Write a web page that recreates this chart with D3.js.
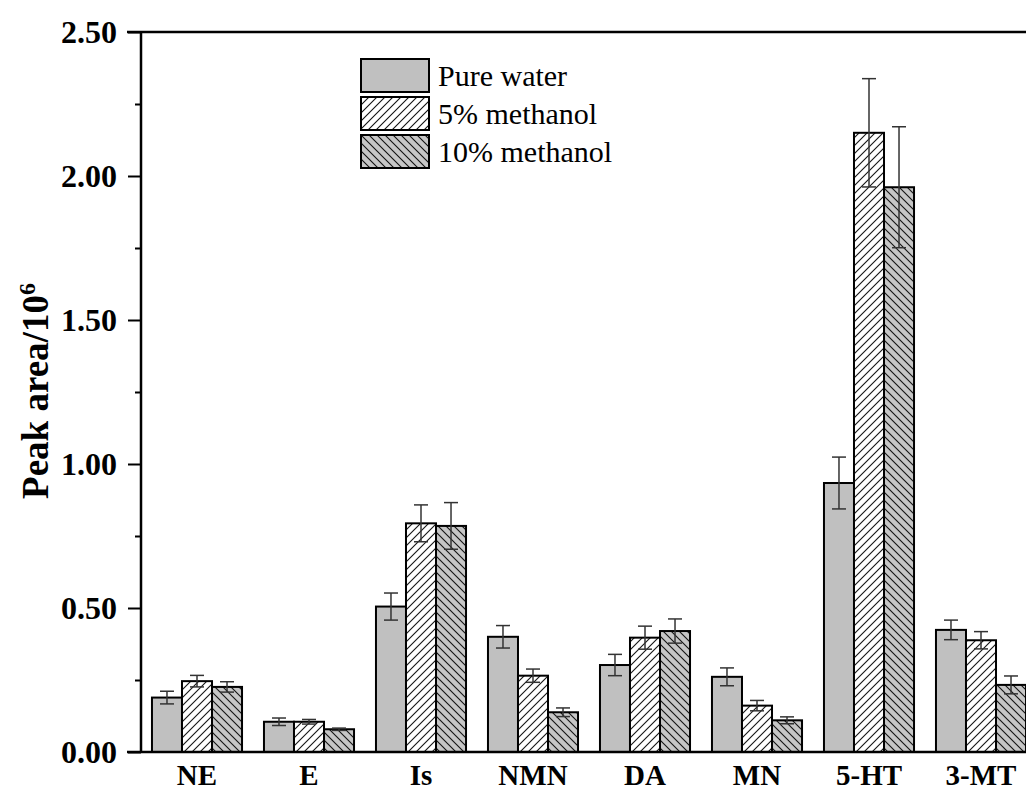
<!DOCTYPE html>
<html>
<head>
<meta charset="utf-8">
<script src="https://cdn.jsdelivr.net/npm/d3@7"></script>
<style>
  html, body { margin: 0; padding: 0; background: #fff; }
  svg { display: block; }
</style>
</head>
<body>
<svg id="chart" width="1026" height="792"></svg>
<script>
const categories = ["NE", "E", "Is", "NMN", "DA", "MN", "5-HT", "3-MT"];
const seriesNames = ["Pure water", "5% methanol", "10% methanol"];
const pureWater     = [0.189, 0.105, 0.505, 0.400, 0.302, 0.261, 0.934, 0.424];
const pureWaterErr  = [0.022, 0.013, 0.047, 0.039, 0.037, 0.031, 0.090, 0.034];
const methanol5     = [0.246, 0.105, 0.794, 0.265, 0.397, 0.161, 2.150, 0.388];
const methanol5Err  = [0.020, 0.008, 0.064, 0.023, 0.040, 0.018, 0.188, 0.030];
const methanol10    = [0.226, 0.079, 0.785, 0.138, 0.420, 0.110, 1.961, 0.233];
const methanol10Err = [0.018, 0.004, 0.081, 0.015, 0.042, 0.012, 0.210, 0.031];
const yTicks = [0, 0.5, 1.0, 1.5, 2.0, 2.5];
const yMinorTicks = [0.25, 0.75, 1.25, 1.75, 2.25];

const seriesVals = [pureWater, methanol5, methanol10];
const seriesErrs = [pureWaterErr, methanol5Err, methanol10Err];
const fills = ["#c0c0c0", "url(#hatchFwd)", "url(#hatchBack)"];

const W = 1026, H = 792;
const plotL = 141, plotR = 1037, plotT = 32, plotB = 752;
const FONT = "'Liberation Serif', 'Times New Roman', serif";
const svg = d3.select("#chart");

// patterns
const defs = svg.append("defs");
const p1 = defs.append("pattern").attr("id", "hatchFwd")
  .attr("patternUnits", "userSpaceOnUse").attr("width", 8).attr("height", 8);
p1.append("rect").attr("width", 8).attr("height", 8).attr("fill", "#fff");
p1.append("path").attr("d", "M-2,2 L2,-2 M0,8 L8,0 M6,10 L10,6")
  .attr("stroke", "#111").attr("stroke-width", 1.1);
const p2 = defs.append("pattern").attr("id", "hatchBack")
  .attr("patternUnits", "userSpaceOnUse").attr("width", 8).attr("height", 8);
p2.append("rect").attr("width", 8).attr("height", 8).attr("fill", "#c6c6c6");
p2.append("path").attr("d", "M-2,6 L2,10 M0,0 L8,8 M6,-2 L10,2")
  .attr("stroke", "#111").attr("stroke-width", 1.1);

const x0 = d3.scaleBand().domain(categories).range([plotL, plotR])
  .paddingInner(0.196).paddingOuter(0.098);
const x1 = d3.scaleBand().domain(d3.range(3)).range([0, x0.bandwidth()]);
const y = d3.scaleLinear().domain([0, 2.5]).range([plotB, plotT]);

// bars
const groups = svg.append("g").selectAll("g").data(categories).join("g")
  .attr("transform", d => `translate(${x0(d)},0)`);
groups.each(function(cat, ci) {
  const g = d3.select(this);
  const data = d3.range(3).map(s => ({ s, v: seriesVals[s][ci], e: seriesErrs[s][ci] }));
  g.selectAll("rect").data(data).join("rect")
    .attr("x", d => x1(d.s))
    .attr("y", d => y(d.v))
    .attr("width", x1.bandwidth())
    .attr("height", d => y(0) - y(d.v))
    .attr("fill", d => fills[d.s])
    .attr("stroke", "#000").attr("stroke-width", 2);
  const eb = g.selectAll("g.err").data(data).join("g").attr("class", "err")
    .attr("stroke", "#333").attr("stroke-width", 1.5);
  const cx = d => x1(d.s) + x1.bandwidth() / 2;
  eb.append("line")
    .attr("x1", cx).attr("x2", cx)
    .attr("y1", d => y(d.v + d.e)).attr("y2", d => y(d.v - d.e));
  eb.append("line")
    .attr("x1", d => cx(d) - 7).attr("x2", d => cx(d) + 7)
    .attr("y1", d => y(d.v + d.e)).attr("y2", d => y(d.v + d.e));
  eb.append("line")
    .attr("x1", d => cx(d) - 7).attr("x2", d => cx(d) + 7)
    .attr("y1", d => y(d.v - d.e)).attr("y2", d => y(d.v - d.e));
});

// y axis
const yAxis = svg.append("g").attr("transform", `translate(${plotL},0)`)
  .call(d3.axisLeft(y).tickValues(yTicks).tickSize(13).tickPadding(11).tickFormat(d3.format(".2f")));
yAxis.select(".domain").remove();
yAxis.selectAll(".tick line").attr("stroke", "#000").attr("stroke-width", 2);
yAxis.selectAll(".tick text")
  .attr("font-family", FONT)
  .attr("font-weight", "bold").attr("font-size", 32).attr("fill", "#000");
const yMinor = svg.append("g").attr("transform", `translate(${plotL},0)`)
  .call(d3.axisLeft(y).tickValues(yMinorTicks).tickSize(6).tickFormat(""));
yMinor.select(".domain").remove();
yMinor.selectAll(".tick line").attr("stroke", "#000").attr("stroke-width", 2);

// frame lines
svg.append("line").attr("x1", plotL).attr("x2", plotL).attr("y1", plotT - 1).attr("y2", plotB + 1)
  .attr("stroke", "#000").attr("stroke-width", 2.5);
svg.append("line").attr("x1", 127).attr("x2", W).attr("y1", plotB).attr("y2", plotB)
  .attr("stroke", "#000").attr("stroke-width", 2.5);
svg.append("line").attr("x1", 127).attr("x2", W).attr("y1", plotT).attr("y2", plotT)
  .attr("stroke", "#000").attr("stroke-width", 2.5);

// x labels
svg.append("g").selectAll("text").data(categories).join("text")
  .attr("x", d => x0(d) + x0.bandwidth() / 2)
  .attr("y", 785)
  .attr("text-anchor", "middle")
  .attr("font-family", FONT)
  .attr("font-weight", "bold").attr("font-size", 29).attr("fill", "#000")
  .text(d => d);

// y title
const yt = svg.append("text")
  .attr("transform", `translate(48,391) rotate(-90)`)
  .attr("text-anchor", "middle")
  .attr("font-family", FONT)
  .attr("font-weight", "bold").attr("font-size", 37).attr("fill", "#000");
yt.append("tspan").text("Peak area/10");
yt.append("tspan").attr("baseline-shift", "super").attr("font-size", 24).text("6");

// legend
const leg = svg.append("g").attr("transform", "translate(361,59)");
const li = leg.selectAll("g").data(seriesNames).join("g")
  .attr("transform", (d, i) => `translate(0,${i * 38})`);
li.append("rect").attr("width", 68).attr("height", 33)
  .attr("fill", (d, i) => fills[i]).attr("stroke", "#000").attr("stroke-width", 2);
li.append("text").attr("x", 77).attr("y", 27)
  .attr("font-family", FONT)
  .attr("font-size", 30).attr("fill", "#000")
  .text(d => d);
</script>
</body>
</html>
